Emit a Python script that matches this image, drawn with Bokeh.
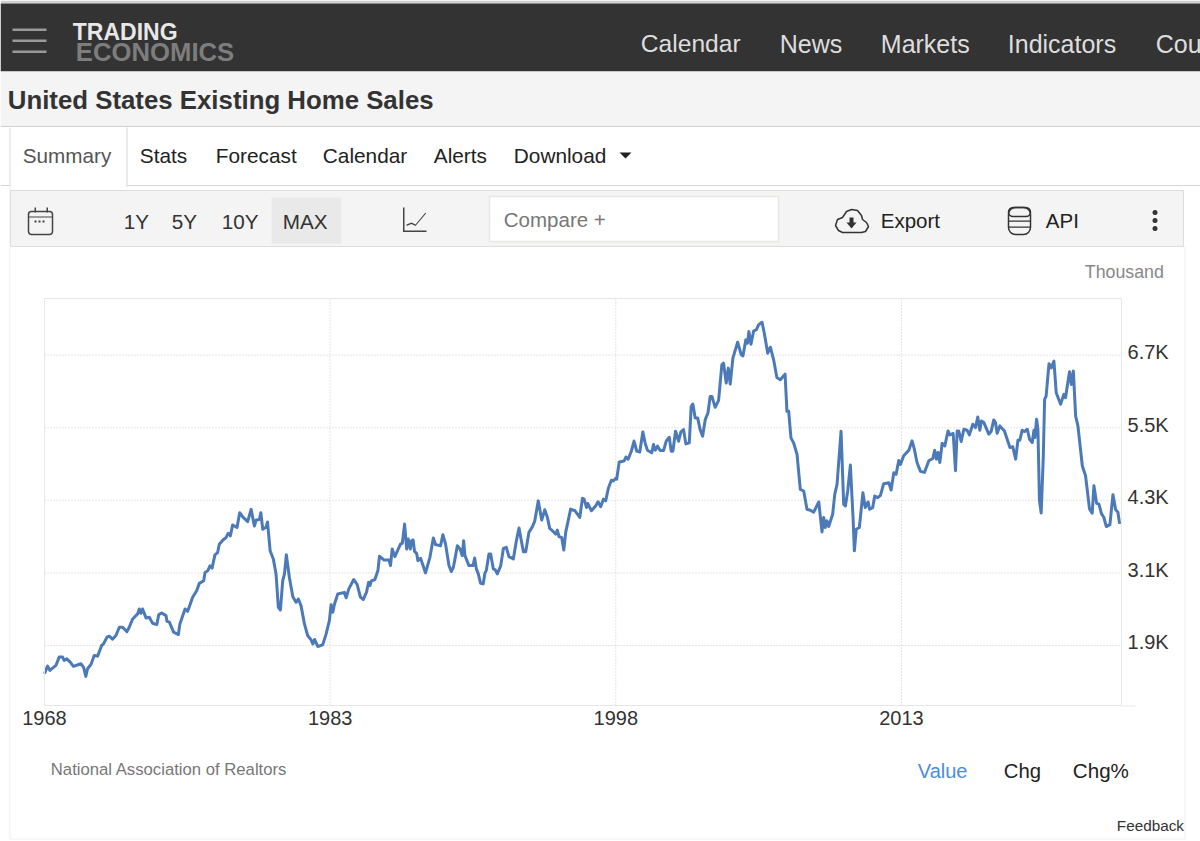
from bokeh.core.properties import value
from bokeh.embed import file_html
from bokeh.models import BoxAnnotation, FixedTicker, Label, PolyAnnotation, Range1d
from bokeh.plotting import figure
from bokeh.resources import INLINE

years = [
 1968.0,1968.16,1968.28,1968.6,1968.77,1968.95,1969.03,1969.17,1969.35,1969.52,1969.91,1970.05,1970.17,1970.26,1970.44,1970.61,1970.79,
 1971.0,1971.1,1971.28,1971.4,1971.57,1971.75,1971.93,1972.1,1972.33,1972.45,1972.63,1972.89,1972.98,1973.06,1973.15,1973.33,1973.5,1973.68,1973.9,
 1974.0,1974.15,1974.38,1974.43,1974.55,1974.78,1975.03,1975.11,1975.38,1975.52,1975.78,1975.99,1976.13,1976.36,1976.43,1976.57,1976.69,1976.8,1976.95,
 1977.09,1977.18,1977.36,1977.53,1977.65,1977.76,1977.88,1978.11,1978.25,1978.41,1978.67,1978.85,1979.02,1979.11,1979.29,1979.36,1979.46,1979.64,1979.71,1979.85,
 1980.02,1980.16,1980.28,1980.39,1980.51,1980.6,1980.7,1980.86,1981.04,1981.21,1981.33,1981.47,1981.65,1981.82,1982.0,1982.09,1982.18,1982.35,1982.61,1982.79,1982.96,
 1983.05,1983.14,1983.23,1983.4,1983.75,1983.84,1983.98,1984.24,1984.42,1984.59,1984.74,1984.91,1985.02,1985.09,1985.17,1985.35,1985.51,1985.59,1985.82,
 1986.09,1986.17,1986.26,1986.4,1986.7,1986.79,1986.91,1987.02,1987.1,1987.21,1987.28,1987.36,1987.43,1987.54,1987.61,1987.75,1988.01,1988.24,1988.42,1988.54,1988.8,1988.92,
 1989.06,1989.24,1989.36,1989.47,1989.54,1989.68,1989.82,1989.94,1990.01,1990.08,1990.29,1990.5,1990.59,1990.68,1990.78,1990.9,1991.04,1991.13,1991.2,1991.34,1991.43,1991.57,1991.66,1991.78,1991.96,
 1992.1,1992.25,1992.39,1992.62,1992.78,1992.92,1993.04,1993.15,1993.27,1993.44,1993.62,1993.74,1993.93,1994.11,1994.27,1994.41,1994.53,1994.67,1994.85,1994.93,
 1995.02,1995.16,1995.27,1995.37,1995.63,1995.86,1996.11,1996.25,1996.34,1996.46,1996.53,1996.72,1996.95,1997.07,1997.21,1997.35,1997.47,1997.61,1997.77,1997.88,
 1998.0,1998.05,1998.18,1998.44,1998.53,1998.65,1998.82,1998.96,1999.1,1999.26,1999.42,1999.54,1999.66,1999.89,1999.98,2000.07,2000.19,2000.33,2000.51,2000.65,2000.81,2000.91,
 2001.0,2001.14,2001.3,2001.42,2001.56,2001.68,2001.86,2001.96,2002.05,2002.17,2002.3,2002.43,2002.56,2002.7,2002.84,2002.96,2003.05,2003.22,2003.4,2003.57,2003.66,2003.8,2003.91,
 2004.01,2004.15,2004.4,2004.59,2004.68,2004.83,2004.92,2004.99,2005.1,2005.24,2005.38,2005.5,2005.68,2005.8,2005.98,2006.12,2006.29,2006.46,2006.64,2006.89,2006.99,
 2007.08,2007.2,2007.34,2007.52,2007.69,2007.87,2008.04,2008.22,2008.39,2008.66,2008.83,2008.92,2009.0,2009.09,2009.18,2009.39,2009.5,2009.62,2009.83,2009.97,
 2010.06,2010.18,2010.32,2010.46,2010.53,2010.63,2010.79,2010.98,2011.1,2011.25,2011.33,2011.49,2011.6,2011.76,2011.9,2012.07,2012.34,2012.46,2012.6,2012.72,2012.86,2012.95,
 2013.12,2013.39,2013.56,2013.68,2013.82,2014.0,2014.21,2014.44,2014.65,2014.75,2014.84,2014.93,2015.02,2015.14,2015.28,2015.45,2015.54,2015.72,2015.84,2015.93,
 2016.01,2016.14,2016.28,2016.45,2016.57,2016.75,2016.89,2017.01,2017.12,2017.2,2017.33,2017.59,2017.71,2017.85,2017.94,2018.03,2018.17,2018.41,2018.7,2018.85,
 2019.0,2019.12,2019.22,2019.34,2019.47,2019.61,2019.73,2019.87,2019.96,2020.01,2020.1,2020.17,2020.25,2020.34,2020.45,2020.52,2020.6,2020.75,2020.87,
 2021.01,2021.13,2021.36,2021.53,2021.62,2021.71,2021.83,2021.92,2022.03,2022.15,2022.27,2022.5,2022.67,2022.88,2023.02,2023.11,2023.25,2023.37,2023.51,2023.63,2023.76,2023.95,
 2024.11,2024.25,2024.37,2024.46,
]
home_sales = [
 1433,1560,1488,1570,1708,1708,1653,1680,1625,1554,1598,1543,1390,1516,1587,1735,1724,
 1900,1927,2037,2054,2004,2065,2202,2202,2130,2202,2339,2422,2504,2432,2504,2356,2367,2268,2246,
 2411,2438,2394,2301,2290,2120,2081,2257,2504,2465,2696,2806,2927,2971,3108,3135,3218,3179,3399,
 3437,3574,3640,3684,3756,3712,3893,3849,4096,4025,3948,4151,3876,3970,3986,4096,3821,3860,3942,3465,
 3327,3080,2531,2487,2971,3080,3399,3025,2707,2614,2669,2559,2257,2065,1993,1927,1999,1884,1911,2092,2312,
 2575,2449,2586,2751,2778,2688,2836,2990,2908,2699,2661,2782,2946,2891,2968,2990,3138,3375,3314,
 3314,3221,3495,3369,3578,3589,3907,3495,3660,3495,3633,3644,3457,3424,3303,3342,3100,3358,3676,3567,3550,3731,
 3578,3221,3122,3193,3303,3550,3495,3385,3633,3385,3221,3221,3347,3166,3084,2930,2919,3100,3138,3413,3413,3166,3155,3084,3221,
 3506,3523,3369,3331,3633,3841,3633,3451,3451,3770,3863,3951,4291,3973,4143,4017,3836,3797,3742,3808,
 3698,3687,3479,3770,4154,4127,4017,4335,4319,4182,4247,4127,4209,4275,4193,4319,4291,4500,4632,4621,
 4665,4648,4934,4950,5016,4978,5115,5280,5115,5098,5431,5250,5129,5085,5222,5129,5195,5124,5124,5277,5343,5113,
 5113,5442,5277,5431,5469,5233,5250,5854,5892,5662,5662,5469,5360,5634,5744,6018,6018,5837,5952,6540,6567,6238,6485,
 6221,6650,6913,6705,6688,6952,6897,7089,6880,7100,7116,7199,7243,7061,6732,6831,6622,6331,6293,6386,5771,
 5771,5332,5250,5058,4481,4454,4152,4135,4102,4273,3778,4015,3850,3960,3866,4069,4399,4564,5442,4234,
 4207,4454,4882,4015,3465,3822,3850,4426,4179,4273,4152,4179,4371,4344,4382,4575,4591,4470,4756,4728,4959,4893,
 5036,5129,5283,5145,4926,4778,4761,4953,4992,5129,4981,5091,4926,5244,5200,5447,5382,5404,4789,5447,
 5447,5272,5475,5458,5382,5557,5502,5678,5458,5612,5585,5393,5436,5629,5585,5409,5530,5447,5173,5184,
 4981,5294,5294,5458,5436,5475,5310,5255,5458,5338,5640,5475,4295,4091,5008,5969,6024,6556,6490,
 6600,6079,5887,6051,5996,6189,6425,6216,6436,5694,5530,4871,4706,4157,4086,4542,4251,4240,4075,4020,3866,3899,
 4393,4146,4102,3910,
]
year_ticks = [1968, 1983, 1998, 2013]
year_labels = ["1968", "1983", "1998", "2013"]
value_ticks = [1900, 3100, 4300, 5500, 6700]
value_labels = ["1.9K", "3.1K", "4.3K", "5.5K", "6.7K"]

FONT = "Liberation Sans"
X_MIN, X_MAX, Y_MIN, Y_MAX = 1968, 2024.56, 908, 7636   # plot-area limits of the chart

# The frame fills the whole canvas so that the page furniture can be drawn inside it.
p = figure(width=1200, height=841, output_backend="svg", toolbar_location=None,
           x_range=Range1d(1965.689, 2028.707), y_range=Range1d(-1340, 12562),
           y_axis_location="right", min_border=0,
           background_fill_color="white", border_fill_color="white", outline_line_color=None)
# tick labels sit about 3px above their gridlines in the reference
p.extra_y_ranges = {"labels": Range1d(-1340 - 50, 12562 - 50)}

for ax, ticks, labels in ((p.xaxis[0], year_ticks, year_labels), (p.yaxis[0], value_ticks, value_labels)):
    ax.ticker = FixedTicker(ticks=ticks)
    ax.major_label_overrides = dict(zip(ticks, labels))
    ax.axis_line_color = None
    ax.major_tick_line_color = None
    ax.minor_tick_line_color = None
    ax.major_tick_out = 0
    ax.major_tick_in = 0
    ax.major_label_text_font = FONT
    ax.major_label_text_font_size = "20px"
    ax.major_label_text_color = "#333333"
p.xaxis[0].major_label_standoff = 5
p.yaxis[0].major_label_standoff = 6
p.xaxis[0].fixed_location = Y_MIN
p.yaxis[0].fixed_location = X_MAX
p.yaxis[0].y_range_name = "labels"
p.grid.visible = False

# gridlines limited to the plot area
p.segment(x0=year_ticks, x1=year_ticks, y0=Y_MIN, y1=Y_MAX, line_color="#cccccc", line_dash=value([1, 2]), line_width=1)
p.segment(x0=X_MIN, x1=X_MAX, y0=value_ticks, y1=value_ticks, line_color="#cccccc", line_dash=value([1, 2]), line_width=1)


def box(x0, y0, x1, y1, fill=None, line=None, lw=1, radius=0):
    p.add_layout(BoxAnnotation(
        left=x0, right=x1, bottom=841 - y1, top=841 - y0,
        left_units="screen", right_units="screen", top_units="screen", bottom_units="screen",
        fill_color=fill, fill_alpha=1 if fill else 0, line_color=line, line_alpha=1 if line else 0,
        line_width=lw, border_radius=radius, level="annotation", editable=False))


def poly(points, fill=None, line=None, lw=1.5):
    p.add_layout(PolyAnnotation(
        xs=[a for a, _ in points], ys=[841 - b for _, b in points],
        xs_units="screen", ys_units="screen",
        fill_color=fill, fill_alpha=1 if fill else 0, line_color=line, line_alpha=1 if line else 0,
        line_width=lw, level="annotation", editable=False))


def text(s, x, y, size, color="#222222", style="normal", align="left"):
    p.add_layout(Label(x=x - 0.7, y=841 - y + 1, x_units="screen", y_units="screen", text=s,
                       text_font=FONT, text_font_size=f"{size}px", text_color=color,
                       text_font_style=style, text_align=align, text_baseline="middle",
                       level="annotation"))


# page chrome
box(0, 0, 1200, 3, fill="#d0d0d0")
box(0, 3, 1200, 71, fill="#333333")
box(0, 71, 1200, 126, fill="#f4f4f4")
box(0, 125.5, 1200, 126.5, fill="#cfcfcf")
box(0, 184.5, 9, 185.5, fill="#d5d5d5")
box(126, 184.5, 1200, 185.5, fill="#d5d5d5")
box(9, 127, 10, 186, fill="#dcdcdc")
box(126, 127, 127, 186, fill="#d5d5d5")
box(9, 186, 10, 838, fill="#f0f0f0")
box(1184, 246, 1185, 838, fill="#f0f0f0")
box(9, 838, 1185, 839, fill="#f0f0f0")
box(10, 190, 1183, 246, fill="#f4f4f4", line="#dddddd")
box(271, 197, 341, 243, fill="#e9e9e9")
box(489, 196, 778, 241, fill="white", line="#e8e8e3", lw=1.5)
# plot-area border
box(44, 298, 1121, 705, line="#e6e6e6")
box(1121, 705, 1135, 706, fill="#e6e6e6")

# hamburger
for y in (28, 39, 50):
    box(12, y, 46, y + 2.5, fill="#9a9a9a")
# calendar icon
box(28, 211, 52, 234, line="#444444", lw=1.5, radius=3)
box(28, 216, 52, 217, fill="#444444")
for x in (34, 46):
    box(x, 207, x + 1.5, 212, fill="#444444")
for x in (34, 38, 42):
    box(x, 220, x + 2, 222, fill="#444444")
# chart icon
box(402.5, 207, 404, 231, fill="#444444")
box(402.5, 230, 426, 231.5, fill="#444444")
poly([(406, 224), (411, 222), (415, 224), (425, 212), (425.5, 213), (415, 225.5), (411, 223.5), (406, 225.5)], fill="#444444")
# dropdown caret
poly([(619, 152), (631, 152), (625, 158)], fill="#222222")
# cloud with arrow
poly([(842, 232), (838, 230), (835, 225), (837, 219), (842, 217), (846, 211), (851, 209), (857, 210),
      (861, 215), (862, 219), (866, 222), (868, 226), (865, 231), (861, 232)], line="#333333")
poly([(849, 217), (853, 217), (853, 222), (856, 222), (851, 228), (846, 222), (849, 222)], fill="#333333")
# database icon
box(1008, 207, 1030, 234, line="#333333", lw=1.5, radius=7)
box(1008, 207, 1030, 216, line="#333333", lw=1.5, radius=5)
box(1008.5, 220, 1029.5, 221.2, fill="#333333")
box(1008.5, 226, 1029.5, 227.2, fill="#333333")
# kebab
for y in (212, 220, 228):
    box(1152, y - 2.5, 1157, y + 2.5, fill="#333333", radius=3)

# texts
text("TRADING", 73, 32, 23, "#e8e8e8", "bold")
text("ECONOMICS", 76, 52, 25.7, "#7d7d7d", "bold")
for s, x in (("Calendar", 641), ("News", 780), ("Markets", 881), ("Indicators", 1008), ("Cou", 1156)):
    text(s, x, 44, 25 if s != "Calendar" else 24.6, "#dedede")
text("United States Existing Home Sales", 8, 100, 25.8, "#333333", "bold")
text("Summary", 23, 156, 20.7, "#555555")
for s, x in (("Stats", 140), ("Forecast", 216), ("Calendar", 323), ("Alerts", 434), ("Download", 514)):
    text(s, x, 156, 20.8)
for s, x in (("1Y", 124), ("5Y", 172), ("10Y", 222), ("MAX", 283)):
    text(s, x, 222, 20.7, "#333333")
text("Compare +", 504, 220, 20.5, "#777777")
text("Export", 881, 221, 20.5)
text("API", 1046, 221, 20.5)
text("Thousand", 1085, 272, 17.8, "#888888")
text("National Association of Realtors", 51, 770, 16.7, "#777777")
text("Value", 918, 771, 20, "#4a8ee0")
text("Chg", 1004, 771, 20.3)
text("Chg%", 1073, 771, 20.6)
text("Feedback", 1117, 826, 15.3, "#333333")

p.line(years, home_sales, line_color="#4c7ab8", line_width=3, line_join="round")

open("out.html", "w").write(file_html(p, INLINE))
